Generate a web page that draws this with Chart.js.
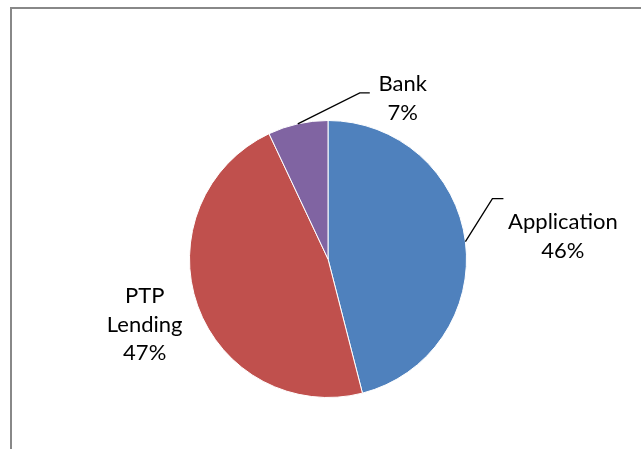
<!DOCTYPE html>
<html>
<head>
<meta charset="utf-8">
<script src="https://cdn.jsdelivr.net/npm/chart.js@4/dist/chart.umd.min.js"></script>
<style>
html,body{margin:0;padding:0;background:#fff;}
#wrap{position:relative;width:641px;height:449px;}
</style>
</head>
<body>
<div id="wrap"><canvas id="c" width="641" height="449"></canvas></div>
<script>
const categories = ["Application", "PTP Lending", "Bank"];
const values = [46, 47, 7];
const labelLines = [["Application", "46%"], ["PTP", "Lending", "47%"], ["Bank", "7%"]];
const colors = ["#4F81BD", "#C0504D", "#8064A2"];

// label placement relative to the slice's outer mid-point (style only)
// text: [center x offset, first baseline offset]
const labelStyle = [
  { elbow: [27, -43], end: [38, -43], text: [97.5, -12.6], leader: true },
  { text: [-53, -3], leader: false },
  { elbow: [62, -31], end: [72, -31], text: [105, -32.6], leader: true }
];

const labelPlugin = {
  id: 'labels',
  beforeDraw(chart) {
    const ctx = chart.ctx;
    ctx.save();
    ctx.strokeStyle = '#888888';
    ctx.lineWidth = 2;
    ctx.beginPath();
    ctx.moveTo(11, 449);
    ctx.lineTo(11, 8);
    ctx.lineTo(641, 8);
    ctx.stroke();
    ctx.restore();
  },
  afterDraw(chart) {
    const ctx = chart.ctx;
    const meta = chart.getDatasetMeta(0);
    ctx.save();
    ctx.font = '22px Lato';
    ctx.fillStyle = '#000';
    ctx.textAlign = 'center';
    ctx.textBaseline = 'alphabetic';
    meta.data.forEach((arc, i) => {
      const p = arc.getProps(['x', 'y', 'startAngle', 'endAngle', 'outerRadius'], true);
      const mid = (p.startAngle + p.endAngle) / 2;
      const ex = p.x + Math.cos(mid) * p.outerRadius;
      const ey = p.y + Math.sin(mid) * p.outerRadius;
      const s = labelStyle[i];
      if (s.leader) {
        ctx.strokeStyle = '#000';
        ctx.lineWidth = 1.3;
        ctx.beginPath();
        ctx.moveTo(ex, ey);
        ctx.lineTo(ex + s.elbow[0], ey + s.elbow[1]);
        ctx.lineTo(ex + s.end[0], ey + s.end[1]);
        ctx.stroke();
      }
      const lines = labelLines[i];
      const lh = 28.6;
      const cx = ex + s.text[0];
      const firstBase = ey + s.text[1];
      lines.forEach((t, k) => ctx.fillText(t, cx, firstBase + k * lh));
    });
    ctx.restore();
  }
};

new Chart(document.getElementById('c'), {
  type: 'pie',
  data: {
    labels: categories,
    datasets: [{
      data: values,
      backgroundColor: colors,
      borderColor: '#ffffff',
      borderWidth: 1
    }]
  },
  options: {
    responsive: false,
    animation: false,
    layout: { padding: { left: 189, right: 174, top: 120, bottom: 51 } },
    plugins: { legend: { display: false }, tooltip: { enabled: false } }
  },
  plugins: [labelPlugin]
});
</script>
</body>
</html>
